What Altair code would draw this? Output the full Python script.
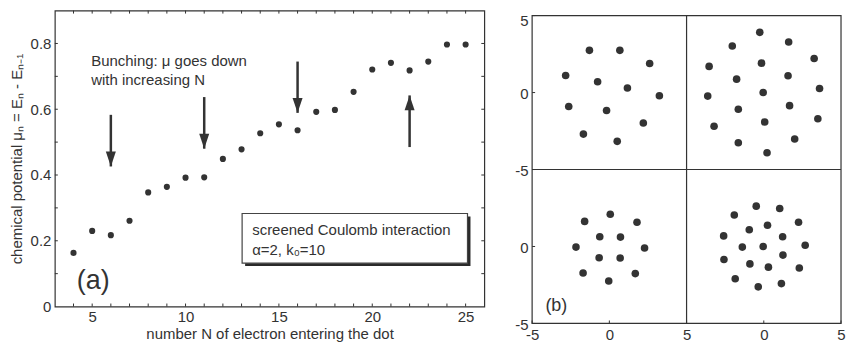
import altair as alt
import pandas as pd

FONT = "Liberation Sans"
INK = "#333333"

# ---------------- panel (a) data ----------------
n_values = [4, 5, 6, 7, 8, 9, 10, 11, 12, 13, 14, 15, 16, 17, 18, 19, 20, 21, 22, 23, 24, 25]
mu_values = [0.163, 0.230, 0.217, 0.261, 0.347, 0.364, 0.392, 0.393, 0.449, 0.478, 0.527,
             0.554, 0.536, 0.592, 0.598, 0.653, 0.721, 0.741, 0.718, 0.745, 0.797, 0.797]

arrow_n = [6, 11, 16, 22]
arrow_from = [0.583, 0.637, 0.745, 0.485]
arrow_to = [0.426, 0.480, 0.589, 0.642]
arrow_dir = ["down", "down", "down", "up"]

note_lines = ["Bunching: \u03bc goes down", "with increasing N"]
note_y = [0.746, 0.690]
note_x = [4.95, 4.95]

box_x = [13.03, 25.10]
box_y = [0.132, 0.283]
box_lines = ["screened Coulomb interaction", "\u03b1=2, k\u2080=10"]
box_text_x = [13.57, 13.57]
box_text_y = [0.234, 0.173]

a_x_labels = [5, 10, 15, 20, 25]
a_y_labels = [0, 0.2, 0.4, 0.6, 0.8]
a_x_ticks = [4, 5, 6, 7, 8, 9, 10, 11, 12, 13, 14, 15, 16, 17, 18, 19, 20, 21, 22, 23, 24, 25]
a_y_ticks = [0.1, 0.2, 0.3, 0.4, 0.5, 0.6, 0.7, 0.8]

# ---------------- panel (b) data (four electron configurations) ----------------
tl_x = [-1.29, 0.68, 2.61, -2.83, -0.76, 1.17, 3.24, -2.63, -0.18, 2.20, -1.68, 0.51]
tl_y = [2.74, 2.74, 1.89, 1.11, 0.70, 0.30, -0.21, -0.91, -1.17, -1.98, -2.70, -3.17]

tr_x = [-0.26, 1.61, -2.04, 3.26, -3.54, -0.15, 1.57, -1.76, 3.61, -3.63, -0.04, 1.67,
        -1.65, 3.50, -3.22, 0.06, 2.00, -1.65, 0.21]
tr_y = [3.91, 3.28, 3.02, 2.21, 1.70, 1.91, 1.09, 0.87, 0.26, -0.23, 0.00, -0.85,
        -1.09, -1.70, -2.19, -1.91, -3.02, -3.26, -3.91]

bl_x = [0.06, -1.60, 1.79, -0.62, 0.72, -2.16, 2.28, -0.66, 0.70, -1.70, 1.68, -0.04]
bl_y = [2.09, 1.63, 1.57, 0.63, 0.61, -0.04, -0.10, -0.73, -0.75, -1.72, -1.76, -2.24]

br_x = [-0.49, 1.03, -1.91, 2.25, -0.94, 0.24, -2.60, 1.22, -1.39, -0.04, 2.68, -2.58,
        1.24, -0.90, 0.30, 2.30, -1.85, 1.14, -0.36]
br_y = [2.62, 2.47, 2.05, 1.57, 1.09, 1.38, 0.69, 0.63, -0.04, 0.00, 0.08, -0.84,
        -0.56, -1.13, -1.34, -1.40, -2.09, -2.41, -2.62]

b_ticks = [0, 5, 10, 15, 20]

# ---------------- panel (a) chart ----------------
AW, AH = 431, 297
xs_a = alt.Scale(domain=[3, 26], nice=False, zero=False)
ys_a = alt.Scale(domain=[0, 0.9], nice=False, zero=False)

pts = pd.DataFrame({"N": n_values, "mu": mu_values})
arrows = pd.DataFrame({"N": arrow_n, "y0": arrow_from, "y1": arrow_to, "dir": arrow_dir})
notes = pd.DataFrame({"x": note_x, "y": note_y, "t": note_lines})
box = pd.DataFrame({"x": [box_x[0]], "x2": [box_x[1]], "y": [box_y[0]], "y2": [box_y[1]]})
boxtxt = pd.DataFrame({"x": box_text_x, "y": box_text_y, "t": box_lines})
xt = pd.DataFrame({"v": a_x_ticks})
yt = pd.DataFrame({"v": a_y_ticks})

points_a = alt.Chart(pts).mark_circle(size=38, color=INK, opacity=1).encode(
    x=alt.X("N:Q", scale=xs_a,
            axis=alt.Axis(values=a_x_labels, labelPadding=3, titlePadding=2),
            title="number N of electron entering the dot"),
    y=alt.Y("mu:Q", scale=ys_a,
            axis=alt.Axis(values=a_y_labels, format="~g", labelPadding=4, titlePadding=6),
            title="chemical potential \u03bc\u2099 = E\u2099 - E\u2099\u208b\u2081"),
)

shafts = alt.Chart(arrows).mark_rule(color=INK, strokeWidth=2.5).encode(
    x=alt.X("N:Q", scale=xs_a),
    y=alt.Y("y0:Q", scale=ys_a),
    y2="y1:Q",
)
heads_down = alt.Chart(arrows).transform_filter("datum.dir == 'down'").mark_point(
    shape="M -0.67 -2 L 0.67 -2 L 0 0 Z", filled=True, size=225, color=INK, opacity=1
).encode(x=alt.X("N:Q", scale=xs_a), y=alt.Y("y1:Q", scale=ys_a))
heads_up = alt.Chart(arrows).transform_filter("datum.dir == 'up'").mark_point(
    shape="M -0.67 2 L 0.67 2 L 0 0 Z", filled=True, size=225, color=INK, opacity=1
).encode(x=alt.X("N:Q", scale=xs_a), y=alt.Y("y1:Q", scale=ys_a))

note_text = alt.Chart(notes).mark_text(font=FONT, fontSize=15, color=INK, align="left",
                                       baseline="middle").encode(
    x=alt.X("x:Q", scale=xs_a), y=alt.Y("y:Q", scale=ys_a), text="t:N")

shadow = alt.Chart(box).mark_rect(color="#2a2a2a", xOffset=3, x2Offset=3, yOffset=3, y2Offset=3).encode(
    x=alt.X("x:Q", scale=xs_a), x2="x2:Q",
    y=alt.Y("y:Q", scale=ys_a), y2="y2:Q")
boxrect = alt.Chart(box).mark_rect(fill="white", stroke="#444444", strokeWidth=1.2).encode(
    x=alt.X("x:Q", scale=xs_a), x2="x2:Q",
    y=alt.Y("y:Q", scale=ys_a), y2="y2:Q")
box_text = alt.Chart(boxtxt).mark_text(font=FONT, fontSize=15, color=INK, align="left",
                                       baseline="middle").encode(
    x=alt.X("x:Q", scale=xs_a), y=alt.Y("y:Q", scale=ys_a), text="t:N")

label_a = alt.Chart(pd.DataFrame({"x": [4.18], "y": [0.077], "t": ["(a)"]})).mark_text(
    font=FONT, fontSize=27, color=INK, align="left", baseline="middle").encode(
    x=alt.X("x:Q", scale=xs_a), y=alt.Y("y:Q", scale=ys_a), text="t:N")

tick_bottom = alt.Chart(xt).mark_rule(color=INK).encode(
    x=alt.X("v:Q", scale=xs_a), y=alt.value(AH), y2=alt.value(AH - 3))
tick_top = alt.Chart(xt).mark_rule(color=INK).encode(
    x=alt.X("v:Q", scale=xs_a), y=alt.value(0), y2=alt.value(3))
tick_left = alt.Chart(yt).mark_rule(color=INK).encode(
    y=alt.Y("v:Q", scale=ys_a), x=alt.value(0), x2=alt.value(3))
tick_right = alt.Chart(yt).mark_rule(color=INK).encode(
    y=alt.Y("v:Q", scale=ys_a), x=alt.value(AW), x2=alt.value(AW - 3))

panel_a = alt.layer(points_a, tick_bottom, tick_top, tick_left, tick_right, shafts, heads_down,
                    heads_up, note_text, shadow, boxrect, box_text, label_a).properties(
    width=AW, height=AH, view=alt.ViewBackground(stroke=INK, strokeWidth=1.2))

# ---------------- panel (b) chart ----------------
BW = 310          # frame width
BFH = 309         # frame height
TOPGAP = 5        # frame sits this many px below the top of panel (a)
BH = BFH + TOPGAP
ytop = 20 + TOPGAP * 20.0 / BFH
xs_b = alt.Scale(domain=[0, 20], nice=False, zero=False)
ys_b = alt.Scale(domain=[0, ytop], nice=False, zero=False)

frames = []
for xs, ys, dx, dy in [(tl_x, tl_y, 5, 15), (tr_x, tr_y, 15, 15), (bl_x, bl_y, 5, 5), (br_x, br_y, 15, 5)]:
    frames.append(pd.DataFrame({"x": [v + dx for v in xs], "y": [v + dy for v in ys]}))
dots = pd.concat(frames, ignore_index=True)

points_b = alt.Chart(dots).mark_circle(size=58, color=INK, opacity=1).encode(
    x=alt.X("x:Q", scale=xs_b, title=None,
            axis=alt.Axis(values=b_ticks, labelFlush=False, labelOverlap=False, labelPadding=4,
                          labelExpr="datum.value <= 10 ? '' + (datum.value - 5) : '' + (datum.value - 15)")),
    y=alt.Y("y:Q", scale=ys_b, title=None,
            axis=alt.Axis(values=b_ticks, labelFlush=False, labelOverlap=False, labelPadding=4,
                          labelBaseline={"condition": {"test": "datum.value == 20", "value": "top"},
                                         "value": "middle"},
                          labelOffset={"condition": {"test": "datum.value == 20", "value": -2},
                                       "value": 1},
                          labelExpr="datum.value < 10 ? '' + (datum.value - 5) : '' + (datum.value - 15)")),
)
frame_df = pd.DataFrame({"x0": [0], "x1": [20], "y0": [0], "y1": [20]})
frame = alt.Chart(frame_df).mark_rect(fillOpacity=0, stroke=INK, strokeWidth=1.2).encode(
    x=alt.X("x0:Q", scale=xs_b), x2="x1:Q", y=alt.Y("y0:Q", scale=ys_b), y2="y1:Q")
div_df = pd.DataFrame({"m": [10], "lo": [0], "hi": [20]})
div_v = alt.Chart(div_df).mark_rule(color=INK, strokeWidth=1.2).encode(
    x=alt.X("m:Q", scale=xs_b), y=alt.Y("lo:Q", scale=ys_b), y2="hi:Q")
div_h = alt.Chart(div_df).mark_rule(color=INK, strokeWidth=1.2).encode(
    y=alt.Y("m:Q", scale=ys_b), x=alt.X("lo:Q", scale=xs_b), x2="hi:Q")
bt = pd.DataFrame({"v": b_ticks})
btick_bottom = alt.Chart(bt).mark_rule(color=INK).encode(
    x=alt.X("v:Q", scale=xs_b), y=alt.value(BH), y2=alt.value(BH - 3))
btick_left = alt.Chart(bt).mark_rule(color=INK).encode(
    y=alt.Y("v:Q", scale=ys_b), x=alt.value(0), x2=alt.value(3))
label_b = alt.Chart(pd.DataFrame({"x": [0.86], "y": [1.14], "t": ["(b)"]})).mark_text(
    font=FONT, fontSize=18, color=INK, align="left", baseline="middle").encode(
    x=alt.X("x:Q", scale=xs_b), y=alt.Y("y:Q", scale=ys_b), text="t:N")

panel_b = alt.layer(points_b, frame, div_v, div_h, btick_bottom, btick_left, label_b).properties(
    width=BW, height=BH, view=alt.ViewBackground(stroke="transparent"))

chart = alt.hconcat(panel_a, panel_b, spacing=28).properties(
    padding={"left": 0, "top": 0, "right": 0, "bottom": 0}
).configure(background="white", font=FONT).configure_axis(
    labelFont=FONT, titleFont=FONT, labelColor=INK, titleColor=INK,
    labelFontSize=15, titleFontSize=15, titleFontWeight="normal",
    ticks=False, domain=False, grid=False,
)

chart.save("out.html", embed_options={"renderer": "svg", "actions": False})
